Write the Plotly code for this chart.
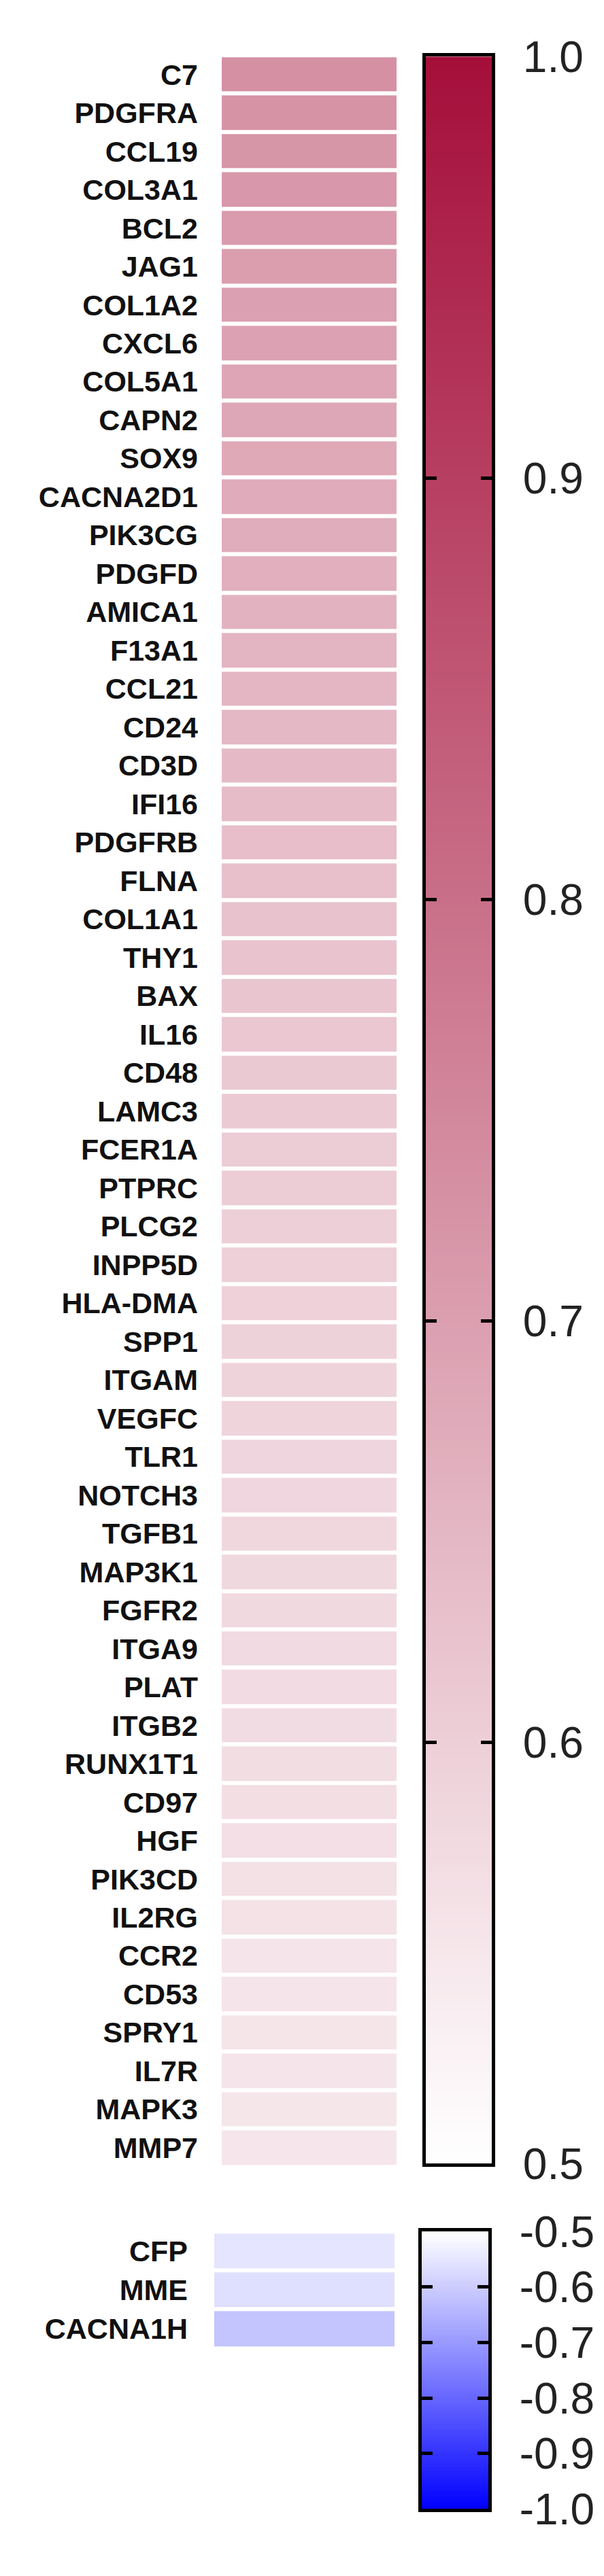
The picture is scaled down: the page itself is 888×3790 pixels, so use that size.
import numpy as np
import plotly.graph_objects as go

# ---------------- data ----------------
pos_genes = ["C7", "PDGFRA", "CCL19", "COL3A1", "BCL2", "JAG1", "COL1A2", "CXCL6",
             "COL5A1", "CAPN2", "SOX9", "CACNA2D1", "PIK3CG", "PDGFD", "AMICA1",
             "F13A1", "CCL21", "CD24", "CD3D", "IFI16", "PDGFRB", "FLNA", "COL1A1",
             "THY1", "BAX", "IL16", "CD48", "LAMC3", "FCER1A", "PTPRC", "PLCG2",
             "INPP5D", "HLA-DMA", "SPP1", "ITGAM", "VEGFC", "TLR1", "NOTCH3", "TGFB1",
             "MAP3K1", "FGFR2", "ITGA9", "PLAT", "ITGB2", "RUNX1T1", "CD97", "HGF",
             "PIK3CD", "IL2RG", "CCR2", "CD53", "SPRY1", "IL7R", "MAPK3", "MMP7"]
pos_values = [0.732, 0.726, 0.720, 0.716, 0.709, 0.703, 0.698, 0.693, 0.688, 0.684,
              0.679, 0.675, 0.670, 0.666, 0.661, 0.657, 0.652, 0.648, 0.644, 0.640,
              0.636, 0.632, 0.628, 0.624, 0.620, 0.616, 0.613, 0.610, 0.607, 0.604,
              0.601, 0.598, 0.596, 0.593, 0.591, 0.589, 0.587, 0.585, 0.583, 0.581,
              0.579, 0.577, 0.574, 0.572, 0.570, 0.568, 0.566, 0.563, 0.560, 0.557,
              0.556, 0.555, 0.554, 0.553, 0.552]

neg_genes = ["CFP", "MME", "CACNA1H"]
neg_values = [-0.550, -0.562, -0.615]

pos_ticks = [0.5, 0.6, 0.7, 0.8, 0.9, 1.0]
pos_ticktext = ["0.5", "0.6", "0.7", "0.8", "0.9", "1.0"]
neg_ticks = [-1.0, -0.9, -0.8, -0.7, -0.6, -0.5]
neg_ticktext = ["-1.0", "-0.9", "-0.8", "-0.7", "-0.6", "-0.5"]

pos_range = [0.5, 1.0]
neg_range = [-1.0, -0.5]

red_scale = [[0.0, "#FFFFFF"], [1.0, "#A50F3A"]]
blue_scale = [[0.0, "#0000FF"], [1.0, "#FFFFFF"]]

# ---------------- layout helpers ----------------
W, H = 888, 3790
FONT = "Liberation Sans, Arial, Helvetica, sans-serif"


def xdom(x0, x1):
    return [x0 / W, x1 / W]


def ydom(top, bottom):
    return [1 - bottom / H, 1 - top / H]


fig = go.Figure()

# positive heatmap
fig.add_trace(go.Heatmap(
    z=[[v] for v in pos_values], x=["r"], y=pos_genes,
    colorscale=red_scale, zmin=pos_range[0], zmax=pos_range[1],
    showscale=False, ygap=6, xaxis="x", yaxis="y",
    hovertemplate="%{y}: %{z}<extra></extra>"))

# positive scale bar (gradient through the same colorscale)
pos_grad = np.linspace(pos_range[0], pos_range[1], 301)
fig.add_trace(go.Heatmap(
    z=[[v] for v in pos_grad], x=["c"], y=pos_grad,
    colorscale=red_scale, zmin=pos_range[0], zmax=pos_range[1],
    showscale=False, zsmooth="best", xaxis="x2", yaxis="y2", hoverinfo="skip"))

# negative heatmap
fig.add_trace(go.Heatmap(
    z=[[v] for v in neg_values], x=["r"], y=neg_genes,
    colorscale=blue_scale, zmin=neg_range[0], zmax=neg_range[1],
    showscale=False, ygap=6, xaxis="x3", yaxis="y3",
    hovertemplate="%{y}: %{z}<extra></extra>"))

# negative scale bar
neg_grad = np.linspace(neg_range[0], neg_range[1], 301)
fig.add_trace(go.Heatmap(
    z=[[v] for v in neg_grad], x=["c"], y=neg_grad,
    colorscale=blue_scale, zmin=neg_range[0], zmax=neg_range[1],
    showscale=False, zsmooth="best", xaxis="x4", yaxis="y4", hoverinfo="skip"))

gene_font = dict(family=FONT, size=43, color="#111111", weight="bold")
tick_font = dict(family=FONT, size=64, color="#222222")

hidden_x = dict(visible=False, showgrid=False, zeroline=False)
bar_x = dict(showline=True, linewidth=5, linecolor="black", mirror=True,
             ticks="", showticklabels=False, showgrid=False, zeroline=False)

fig.update_layout(
    width=W, height=H,
    margin=dict(l=0, r=0, t=0, b=0),
    paper_bgcolor="white", plot_bgcolor="white",
    showlegend=False,
    xaxis=dict(domain=xdom(318, 575), anchor="y", **hidden_x),
    yaxis=dict(domain=ydom(38, 3205), anchor="x", autorange="reversed",
               type="category", showgrid=False, zeroline=False, showline=False,
               ticks="", tickfont=gene_font, ticklabelstandoff=34),
    xaxis2=dict(domain=xdom(618, 715), anchor="y2", **bar_x),
    yaxis2=dict(domain=ydom(40, 3200), anchor="x2", side="right",
                range=pos_range, tickvals=pos_ticks, ticktext=pos_ticktext,
                showline=True, linewidth=5, linecolor="black", mirror="ticks",
                ticks="inside", ticklen=16, tickwidth=5, tickcolor="black",
                showgrid=False, zeroline=False, tickfont=tick_font,
                ticklabelstandoff=28),
    xaxis3=dict(domain=xdom(307, 572), anchor="y3", **hidden_x),
    yaxis3=dict(domain=ydom(3302, 3477), anchor="x3", autorange="reversed",
                type="category", showgrid=False, zeroline=False, showline=False,
                ticks="", tickfont=gene_font, ticklabelstandoff=38),
    xaxis4=dict(domain=xdom(612, 710), anchor="y4", **bar_x),
    yaxis4=dict(domain=ydom(3302, 3718), anchor="x4", side="right",
                range=neg_range, tickvals=neg_ticks, ticktext=neg_ticktext,
                showline=True, linewidth=5, linecolor="black", mirror="ticks",
                ticks="inside", ticklen=16, tickwidth=5, tickcolor="black",
                showgrid=False, zeroline=False, tickfont=tick_font,
                ticklabelstandoff=28),
)

fig.write_html("out.html")
